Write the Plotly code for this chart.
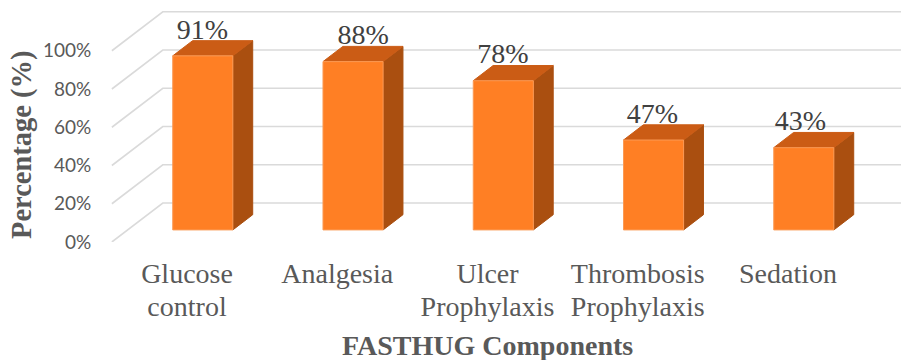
import plotly.graph_objects as go

# Chart content
first_lines = ["Glucose", "Analgesia", "Ulcer", "Thrombosis", "Sedation"]
second_lines = ["control", "", "Prophylaxis", "Prophylaxis", ""]
percentages = [91, 88, 78, 47, 43]
y_ticks = [0, 20, 40, 60, 80, 100]
y_tick_labels = ["0%", "20%", "40%", "60%", "80%", "100%"]

# Oblique projection: one unit of depth moves a point right and up, in axis units
DEPTH_X = 0.339
DEPTH_Y = 20.4
BAR_FRONT = 0.31
BAR_BACK = 0.70
BAR_WIDTH = 0.40
WALL_LEFT = -0.50
X_RANGE = [-0.599, 4.752]
Y_RANGE = [0, 123.4]

# Small horizontal nudges of the value labels, in category units
label_nudge = [-0.003, 0.067, -0.003, -0.008, -0.023]

SERIF = "Liberation Serif"
SANS = "Lato"
FRONT, TOP, SIDE = "#FF7F24", "#CB5C15", "#AA4F10"
EDGE = "#FB9A55"
GRID = "#DADADA"
TEXT = "#595959"

fig = go.Figure()

# Floor-to-wall grid: a slanted run on the side panel, then along the back wall
gx, gy = [], []
for t in y_ticks:
    gx += [WALL_LEFT, WALL_LEFT + DEPTH_X, X_RANGE[1], None]
    gy += [t, t + DEPTH_Y, t + DEPTH_Y, None]
fig.add_trace(go.Scatter(x=gx, y=gy, mode="lines", hoverinfo="skip",
                         line=dict(color=GRID, width=1.6), showlegend=False))

# Value labels sit under the bars so the bar tops overlap them
fig.add_trace(go.Scatter(
    x=[i + BAR_FRONT * DEPTH_X + n for i, n in enumerate(label_nudge)],
    y=[v + BAR_BACK * DEPTH_Y - 2.6 for v in percentages],
    mode="text", text=[f"{v}%" for v in percentages],
    textposition="top center", hoverinfo="skip", showlegend=False,
    textfont=dict(family=SERIF, size=28, color="#404040")))


def face(xs, ys, color, edge):
    fig.add_trace(go.Scatter(x=xs, y=ys, mode="lines", fill="toself", fillcolor=color,
                             line=dict(color=edge, width=1), hoverinfo="skip",
                             showlegend=False))


# Each bar is three faces: side, top, front
for i, v in enumerate(percentages):
    left = i + BAR_FRONT * DEPTH_X - BAR_WIDTH / 2
    right = left + BAR_WIDTH
    y0 = BAR_FRONT * DEPTH_Y
    dx = (BAR_BACK - BAR_FRONT) * DEPTH_X
    dy = (BAR_BACK - BAR_FRONT) * DEPTH_Y
    y1 = y0 + v
    face([right, right + dx, right + dx, right, right],
         [y0, y0 + dy, y1 + dy, y1, y0], SIDE, SIDE)
    face([left, right, right + dx, left + dx, left],
         [y1, y1, y1 + dy, y1 + dy, y1], TOP, TOP)
    face([left, right, right, left, left],
         [y0, y0, y1, y1, y0], FRONT, EDGE)

# Second lines of the category names live on an overlaid axis with a longer tick,
# which gives them tighter line spacing than a multi-line tick label would have
fig.add_trace(go.Scatter(x=[0], y=[0], xaxis="x2", mode="markers",
                         marker=dict(opacity=0), hoverinfo="skip", showlegend=False))

category_font = dict(family=SERIF, size=28, color=TEXT)

# Title positions are worked out from page pixels
plot_w, plot_h = 901 - 97, 360 - 6 - 118

fig.update_layout(
    width=901, height=360, autosize=False,
    margin=dict(l=97, r=0, t=6, b=118),
    paper_bgcolor="white", plot_bgcolor="white",
    showlegend=False,
    font=dict(family=SERIF, color=TEXT),
    xaxis=dict(
        range=X_RANGE, showgrid=False, zeroline=False, showline=False,
        tickmode="array", tickvals=list(range(len(first_lines))), ticktext=first_lines,
        ticks="outside", ticklen=6, tickcolor="rgba(0,0,0,0)", tickfont=category_font,
    ),
    xaxis2=dict(
        range=X_RANGE, overlaying="x", side="bottom", anchor="y",
        showgrid=False, zeroline=False, showline=False,
        tickmode="array", tickvals=list(range(len(second_lines))), ticktext=second_lines,
        ticks="outside", ticklen=39, tickcolor="rgba(0,0,0,0)", tickfont=category_font,
    ),
    yaxis=dict(
        range=Y_RANGE, showgrid=False, zeroline=False, showline=False,
        tickmode="array", tickvals=y_ticks, ticktext=y_tick_labels,
        ticks="outside", ticklen=1, tickcolor="rgba(0,0,0,0)",
        tickfont=dict(family=SANS, size=19, color=TEXT),
    ),
    annotations=[
        dict(text="<b>FASTHUG Components</b>", x=2, xref="x", xanchor="center",
             y=(242 - 345) / plot_h, yref="paper", yanchor="middle", showarrow=False,
             font=dict(family=SERIF, size=28, color=TEXT)),
        dict(text="<b>Percentage (%)</b>", x=(22 - 97) / plot_w, xref="paper",
             xanchor="center", y=(242 - 145) / plot_h, yref="paper", yanchor="middle",
             textangle=-90, showarrow=False,
             font=dict(family=SERIF, size=28.5, color=TEXT)),
    ],
)

fig.write_html("out.html", config=dict(displayModeBar=False))
